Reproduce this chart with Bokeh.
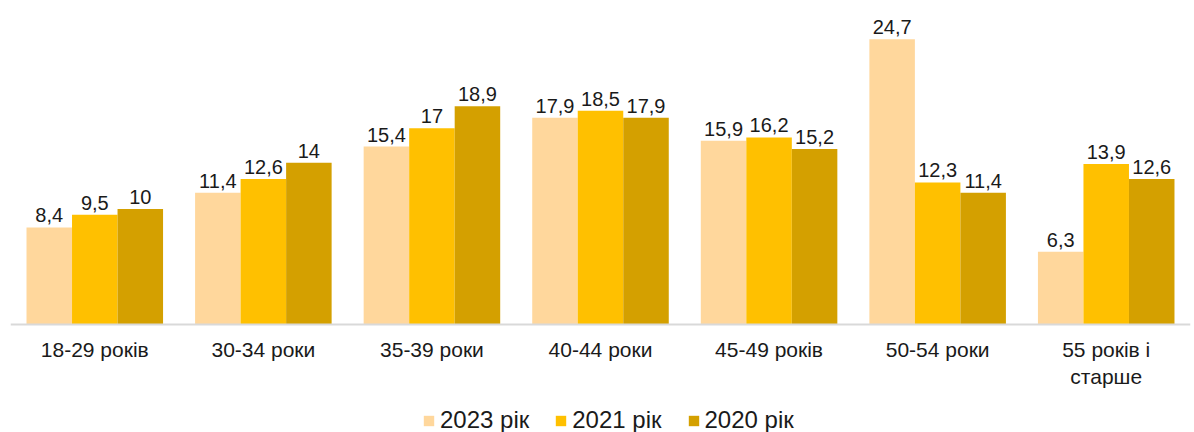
from bokeh.plotting import figure
from bokeh.models import FactorRange, Range1d, Legend, LegendItem, ColumnDataSource, Span
from bokeh.transform import dodge
from bokeh.core.properties import value
from bokeh.embed import file_html
from bokeh.resources import INLINE

categories = ["18-29 років", "30-34 роки", "35-39 роки", "40-44 роки", "45-49 років", "50-54 роки", "55 років і\nстарше"]
series_names = ["2023 рік", "2021 рік", "2020 рік"]
v2023 = [8.4, 11.4, 15.4, 17.9, 15.9, 24.7, 6.3]
v2021 = [9.5, 12.6, 17.0, 18.5, 16.2, 12.3, 13.9]
v2020 = [10.0, 14.0, 18.9, 17.9, 15.2, 11.4, 12.6]
colors = ["#FFD79C", "#FFC000", "#D4A000"]

FONT = "Liberation Sans"

def fmt(v):
    return f"{v:g}".replace(".", ",")

p = figure(x_range=FactorRange(*categories, range_padding=0, factor_padding=0),
           y_range=Range1d(-9.35, 28.05),
           frame_width=1180, frame_height=432, output_backend="svg", toolbar_location=None,
           x_axis_location=None, y_axis_location=None,
           min_border_top=0, min_border_left=10, min_border_right=4, min_border_bottom=0)
p.outline_line_color = None
p.background_fill_color = "white"
p.border_fill_color = "white"
p.xgrid.visible = False
p.ygrid.visible = False

# baseline (category axis line)
p.add_layout(Span(location=0, dimension="width", line_color="#D9D9D9", line_width=2))

offsets = [-0.27, 0.0, 0.27]
items = []
for name, vals, col, off in zip(series_names, [v2023, v2021, v2020], colors, offsets):
    src = ColumnDataSource(dict(cat=categories, val=vals, lab=[fmt(v) for v in vals]))
    r = p.vbar(x=dodge("cat", off, range=p.x_range), top="val", width=0.27, source=src,
               fill_color=col, line_color=None)
    p.text(x=dodge("cat", off, range=p.x_range), y="val", text="lab", source=src,
           text_align="center", text_baseline="alphabetic", y_offset=-12,
           text_font_size="20px", text_color="#1a1a1a", text_font=value(FONT))
    items.append(LegendItem(label=name, renderers=[r]))

# category labels under the baseline
cat_src = ColumnDataSource(dict(cat=categories, y=[0] * len(categories)))
p.text(x="cat", y="y", text="cat", source=cat_src, text_align="center", text_baseline="top",
       y_offset=13, text_font_size="21px", text_color="#1a1a1a", text_font=value(FONT),
       text_line_height=1.2)

legend = Legend(items=items, orientation="horizontal", location=(412, -2),
                label_text_font_size="24px", label_text_font=FONT, label_text_color="#1a1a1a",
                glyph_width=13, glyph_height=13, label_standoff=5, spacing=25,
                padding=0, margin=0, border_line_alpha=0, background_fill_alpha=0)
p.add_layout(legend, "center")

open("out.html", "w").write(file_html(p, INLINE))
